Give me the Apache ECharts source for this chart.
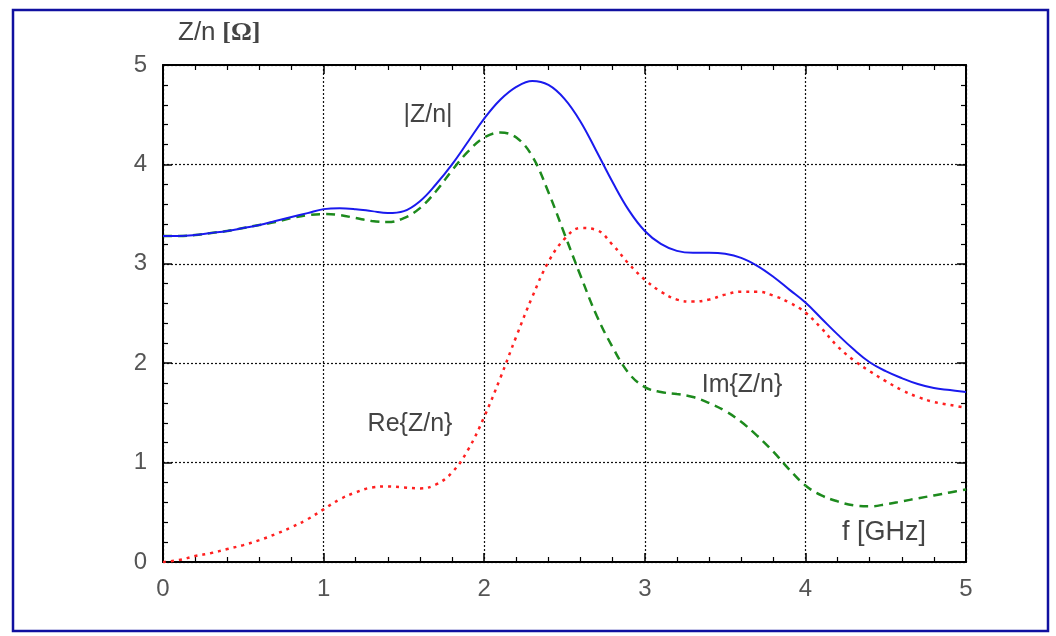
<!DOCTYPE html>
<html>
<head>
<meta charset="utf-8">
<script src="https://cdn.jsdelivr.net/npm/echarts@6/dist/echarts.min.js"></script>
<style>
html,body{margin:0;padding:0;background:#fff;}
#chart{width:1056px;height:636px;}
</style>
</head>
<body>
<div id="chart"></div>
<script>
// frequency f [GHz]
const freq = [0,0.1,0.2,0.3,0.4,0.5,0.6,0.7,0.8,0.9,1.0,1.1,1.2,1.3,1.4,1.5,1.6,1.7,1.8,1.9,2.0,2.1,2.2,2.3,2.4,2.5,2.6,2.7,2.8,2.9,3.0,3.1,3.2,3.3,3.4,3.5,3.6,3.7,3.8,3.9,4.0,4.1,4.2,4.3,4.4,4.5,4.6,4.7,4.8,4.9,5.0];
// |Z/n|
const absZ = [3.28,3.28,3.29,3.31,3.33,3.36,3.39,3.43,3.47,3.51,3.55,3.56,3.55,3.53,3.51,3.53,3.63,3.80,4.00,4.23,4.46,4.65,4.78,4.84,4.80,4.66,4.43,4.13,3.82,3.54,3.33,3.20,3.13,3.11,3.11,3.10,3.06,2.98,2.87,2.74,2.61,2.45,2.29,2.14,2.01,1.92,1.85,1.79,1.75,1.73,1.71];
// Im{Z/n}
const imZ = [3.28,3.28,3.29,3.31,3.33,3.36,3.39,3.42,3.46,3.49,3.50,3.49,3.46,3.43,3.42,3.46,3.56,3.73,3.94,4.13,4.27,4.32,4.27,4.08,3.72,3.30,2.88,2.48,2.16,1.90,1.76,1.71,1.69,1.66,1.60,1.52,1.41,1.27,1.11,0.93,0.77,0.67,0.61,0.57,0.56,0.58,0.61,0.64,0.67,0.70,0.73];
// Re{Z/n}
const reZ = [0,0.02,0.06,0.09,0.13,0.17,0.22,0.28,0.35,0.43,0.53,0.63,0.70,0.75,0.76,0.75,0.74,0.78,0.90,1.13,1.46,1.85,2.27,2.67,3.02,3.25,3.36,3.34,3.19,3.00,2.84,2.72,2.64,2.62,2.64,2.69,2.72,2.72,2.68,2.61,2.51,2.35,2.17,2.03,1.92,1.82,1.73,1.66,1.61,1.58,1.55];

const xTicks = [0,1,2,3,4,5];
const yTicks = [0,1,2,3,4,5];

const pair = (ys) => freq.map((x,i)=>[x, ys[i]]);

const chart = echarts.init(document.getElementById('chart'), null, {renderer:'canvas'});
const font = 'Liberation Sans, Arial, Helvetica, sans-serif';
function axisBase(){
  return {
    type:'value', min:0, max:5, interval:1,
    axisLine:{show:true, onZero:false, lineStyle:{color:'#000', width:2}},
    axisTick:{show:true, inside:true, length:9, lineStyle:{color:'#000', width:1.5}},
    minorTick:{show:true, splitNumber:5, length:5, lineStyle:{color:'#000', width:1.2}},
    minorSplitLine:{show:false}
  };
}
chart.setOption({
  animation:false,
  backgroundColor:'#fff',
  grid:{left:163, right:90, top:65, bottom:74, containLabel:false},
  xAxis:[
    Object.assign(axisBase(), {
      position:'bottom',
      axisLabel:{show:true, fontSize:24, color:'#555', margin:15, fontFamily:font,
        formatter:(v)=> xTicks.includes(v) ? String(v) : ''},
      splitLine:{show:true, lineStyle:{color:'#111', type:[2,2], width:1.2}}
    }),
    Object.assign(axisBase(), {
      position:'top',
      axisLabel:{show:false},
      splitLine:{show:false}
    })
  ],
  yAxis:[
    Object.assign(axisBase(), {
      position:'left',
      axisLabel:{show:true, fontSize:24, color:'#555', margin:16, fontFamily:font,
        formatter:(v)=> yTicks.includes(v) ? String(v) : ''},
      splitLine:{show:true, lineStyle:{color:'#111', type:[2,2], width:1.2}}
    }),
    Object.assign(axisBase(), {
      position:'right',
      axisLabel:{show:false},
      splitLine:{show:false}
    })
  ],
  series:[
    {name:'Re{Z/n}', type:'line', xAxisIndex:0, yAxisIndex:0, data:pair(reZ), smooth:0.4, symbol:'none',
      lineStyle:{color:'#ff2020', width:2.5, type:[3,5]}},
    {name:'Im{Z/n}', type:'line', xAxisIndex:0, yAxisIndex:0, data:pair(imZ), smooth:0.4, symbol:'none',
      lineStyle:{color:'#1d8a1d', width:2.5, type:[9,6]}},
    {name:'|Z/n|', type:'line', xAxisIndex:0, yAxisIndex:0, data:pair(absZ), smooth:0.4, symbol:'none',
      lineStyle:{color:'#1a1aee', width:2}}
  ],
  graphic:[
    {type:'rect', shape:{x:13, y:10, width:1035, height:621}, style:{fill:'none', stroke:'#1010a0', lineWidth:2.5}, z:100},
    {type:'text', x:178, y:33, style:{
      text:'{a|Z/n}  {b|[Ω]}', textVerticalAlign:'middle',
      rich:{a:{fontSize:26, fill:'#444', fontFamily:font}, b:{fontSize:26, fill:'#444', fontFamily:'Liberation Serif, DejaVu Serif, serif', fontWeight:'bold'}}
    }},
    {type:'text', x:428, y:115, style:{text:'|Z/n|', fontSize:25, fill:'#444', fontFamily:font, textAlign:'center', textVerticalAlign:'middle'}},
    {type:'text', x:742, y:385, style:{text:'Im{Z/n}', fontSize:25, fill:'#444', fontFamily:font, textAlign:'center', textVerticalAlign:'middle'}},
    {type:'text', x:410, y:424, style:{text:'Re{Z/n}', fontSize:25, fill:'#444', fontFamily:font, textAlign:'center', textVerticalAlign:'middle'}},
    {type:'text', x:884, y:533, style:{text:'f [GHz]', fontSize:27, fill:'#444', fontFamily:font, textAlign:'center', textVerticalAlign:'middle'}}
  ]
});
</script>
</body>
</html>
